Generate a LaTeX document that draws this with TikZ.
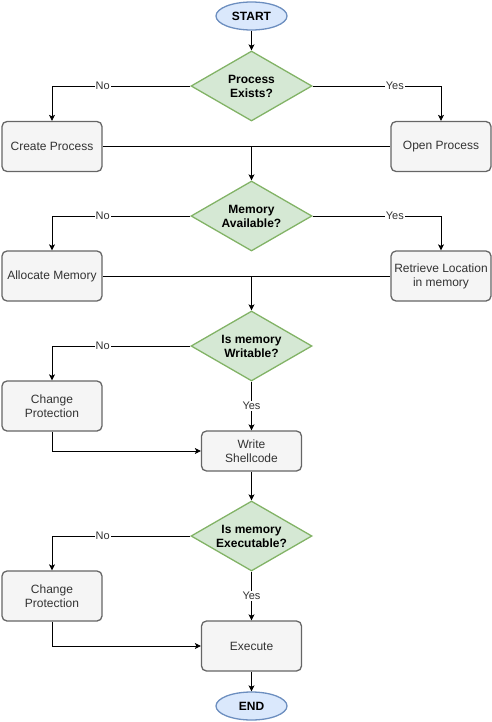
\documentclass[tikz,border=0pt]{standalone}
\usepackage{fontspec}
\setmainfont{Liberation Sans}
\usetikzlibrary{shapes.geometric,arrows.meta}
\definecolor{dfill}{HTML}{D5E8D4}
\definecolor{dline}{HTML}{82B366}
\definecolor{efill}{HTML}{DAE8FC}
\definecolor{eline}{HTML}{6C8EBF}
\definecolor{bfill}{HTML}{F5F5F5}
\definecolor{bline}{HTML}{666666}
\definecolor{btext}{HTML}{333333}
\tikzset{
  term/.style={ellipse, draw=eline, fill=efill, line width=1.3pt, minimum width=71pt, minimum height=28pt, inner sep=0pt, font=\fontsize{12}{14}\selectfont\bfseries},
  dec/.style={diamond, draw=dline, fill=dfill, line width=1.3pt, minimum width=121pt, minimum height=70pt, inner sep=0pt, aspect=1.73, align=center, font=\fontsize{12}{14}\selectfont\bfseries},
  proc/.style={rectangle, rounded corners=5pt, draw=bline, fill=bfill, line width=1.3pt, minimum width=100pt, minimum height=50pt, inner sep=1pt, align=center, text=btext, font=\fontsize{12}{14}\selectfont},
  conn/.style={line width=0.8pt, -{Stealth[length=6pt,width=6pt,inset=1.5pt]}},
  line/.style={line width=0.8pt},
  lbl/.style={fill=white, inner sep=1pt, font=\fontsize{11}{13}\selectfont, text=btext}
}
\begin{document}
\begin{tikzpicture}[x=1pt,y=-1pt]
\useasboundingbox (0,0) rectangle (492,722);
\node[term] (start) at (251.5,16) {START};
\node[dec] (d1) at (251.5,86) {Process\\Exists?};
\node[proc] (cp) at (52,146.5) {Create Process};
\node[proc] (op) at (441,146.5) {Open Process};
\node[dec] (d2) at (251.5,216) {Memory\\Available?};
\node[proc] (am) at (52,276) {Allocate Memory};
\node[proc] (rl) at (441,276) {Retrieve Location\\in memory};
\node[dec] (d3) at (251.5,346) {Is memory\\Writable?};
\node[proc] (ch1) at (52,406) {Change\\Protection};
\node[proc, minimum height=40pt] (ws) at (251.5,451) {Write\\Shellcode};
\node[dec] (d4) at (251.5,536) {Is memory\\Executable?};
\node[proc] (ch2) at (52,596) {Change\\Protection};
\node[proc] (ex) at (251.5,646) {Execute};
\node[term] (end) at (251.5,706) {END};
\coordinate (m1) at (251.5,146.5);
\coordinate (m2) at (251.5,276);

\draw[conn] (start) -- (d1);
\draw[conn] (d1.west) -| node[lbl, pos=0.317] {No} (cp.north);
\draw[conn] (d1.east) -| node[lbl, pos=0.32] {Yes} (op.north);
\draw[line] (cp.east) -- (op.west);
\draw[conn] (m1) -- (d2.north);
\draw[conn] (d2.west) -| node[lbl, pos=0.317] {No} (am.north);
\draw[conn] (d2.east) -| node[lbl, pos=0.32] {Yes} (rl.north);
\draw[line] (am.east) -- (rl.west);
\draw[conn] (m2) -- (d3.north);
\draw[conn] (d3.west) -| node[lbl, pos=0.317] {No} (ch1.north);
\draw[conn] (d3.south) -- node[lbl] {Yes} (ws.north);
\draw[conn] (ch1.south) |- (ws.west);
\draw[conn] (ws.south) -- (d4.north);
\draw[conn] (d4.west) -| node[lbl, pos=0.317] {No} (ch2.north);
\draw[conn] (d4.south) -- node[lbl] {Yes} (ex.north);
\draw[conn] (ch2.south) |- (ex.west);
\draw[conn] (ex.south) -- (end.north);
\end{tikzpicture}
\end{document}
